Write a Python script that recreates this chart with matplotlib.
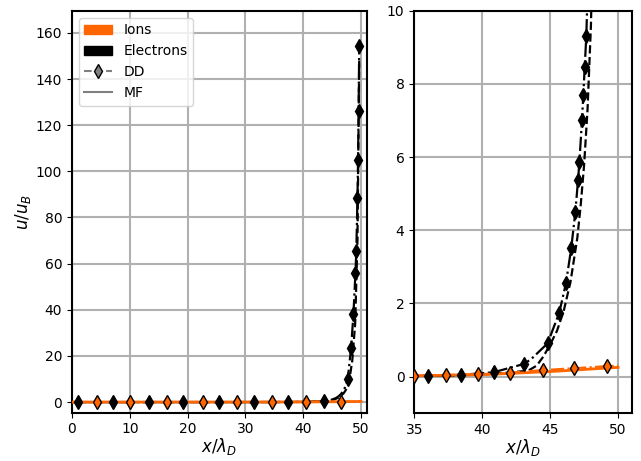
import numpy as np
import matplotlib
matplotlib.use('Agg')
import matplotlib.pyplot as plt
from matplotlib.patches import Patch
from matplotlib.lines import Line2D

plt.rcParams['axes.linewidth'] = 1.5

ion_color = '#ff6600'

# electrons, DD (full curve)
x_e_dd = [0.0, 1.09, 7.13, 13.35, 19.2, 25.4, 31.5, 35.0, 36.03, 37.4, 38.44, 40.83, 43.09, 43.6,
          44.81, 45.67, 46.16, 46.55, 46.85, 47.05, 47.15, 47.34, 47.44, 47.54, 47.66, 47.72,
          48.3, 48.7, 49.05, 49.2, 49.4, 49.5, 49.6, 49.7]
u_e_dd = [0.0, 0.0, 0.0, 0.0, 0.0, 0.0, 0.01, 0.02, 0.03, 0.04, 0.05, 0.12, 0.35, 0.48,
          0.91, 1.75, 2.55, 3.51, 4.49, 5.37, 5.86, 7.01, 7.70, 8.45, 9.31, 10.1,
          23.5, 38.0, 56.0, 65.5, 88.6, 104.8, 126.2, 154.4]

# electrons, MF
x_e_mf = [0.0, 30.0, 38.0, 41.0, 43.0, 43.5, 44.0, 44.5, 45.0, 45.5, 46.0, 46.5, 47.0,
          47.25, 47.5, 47.75, 48.0, 48.5, 49.0, 49.4, 49.7]
u_e_mf = [0.0, 0.0, 0.03, 0.08, 0.15, 0.19, 0.3, 0.55, 0.88, 1.25, 1.8, 2.6, 3.8,
          4.7, 5.8, 7.3, 9.6, 18.0, 34.0, 70.0, 148.0]

# ions, DD
x_i_dd = [0.0, 4.26, 10.1, 16.5, 22.7, 28.6, 34.6, 35.0, 37.34, 39.72, 40.5, 42.05, 44.44,
          46.6, 46.73, 49.16, 50.0]
u_i_dd = [0.0, 0.0, 0.0, 0.0, 0.0, 0.01, 0.02, 0.02, 0.05, 0.07, 0.08, 0.11, 0.18,
          0.23, 0.23, 0.29, 0.3]

# ions, MF
x_i_mf = [0.0, 10.0, 20.0, 30.0, 35.0, 40.0, 45.0, 50.0]
u_i_mf = [0.0, 0.0, 0.005, 0.015, 0.025, 0.055, 0.14, 0.255]

# marker positions in each panel
xm_e_left = [1.09, 7.13, 13.35, 19.2, 25.4, 31.5, 37.4, 43.6, 47.72, 48.3, 48.7, 49.05,
             49.2, 49.4, 49.5, 49.6, 49.7]
xm_i_left = [4.26, 10.1, 16.5, 22.7, 28.6, 34.6, 40.5, 46.6]
xm_e_right = [36.03, 38.44, 40.83, 43.09, 44.81, 45.67, 46.16, 46.55, 46.85, 47.05,
              47.15, 47.34, 47.44, 47.54, 47.66]
xm_i_right = [35.0, 37.34, 39.72, 42.05, 44.44, 46.73, 49.16]

fig = plt.figure(figsize=(6.41, 4.61), dpi=100)
ax1 = fig.add_axes([0.1123, 0.1048, 0.4598, 0.8714])
ax2 = fig.add_axes([0.6463, 0.1035, 0.3392, 0.8733])


def draw(ax, xm_e, xm_i):
    ax.plot(x_e_mf, u_e_mf, color='black', linestyle='--', lw=1.6, zorder=2)
    ax.plot(x_e_dd, u_e_dd, color='black', linestyle='-.', lw=1.6, zorder=2)
    ax.plot(x_i_dd, u_i_dd, color=ion_color, linestyle='-.', lw=1.5, zorder=3)
    ax.plot(x_i_mf, u_i_mf, color=ion_color, linestyle='-', lw=2, zorder=3)
    ye = np.interp(xm_e, x_e_dd, u_e_dd)
    yi = np.interp(xm_i, x_i_dd, u_i_dd)
    ax.plot(xm_e, ye, 'd', color='black', mec='black', ms=7.5, zorder=4)
    ax.plot(xm_i, yi, 'd', color=ion_color, mec='black', ms=7.5, zorder=4)
    ax.grid(True, color='#b0b0b0', linewidth=1.5)
    ax.set_axisbelow(True)
    ax.set_xlabel(r'$x/\lambda_D$', fontsize=12, labelpad=0)


draw(ax1, xm_e_left, xm_i_left)
ax1.set_xlim(0, 51)
ax1.set_ylim(-4.6, 169.5)
ax1.set_xticks([0, 10, 20, 30, 40, 50])
ax1.set_yticks([0, 20, 40, 60, 80, 100, 120, 140, 160])
ax1.set_ylabel(r'$u/u_B$', fontsize=12, labelpad=2)

handles = [Patch(color=ion_color, label='Ions'),
           Patch(color='black', label='Electrons'),
           Line2D([], [], color='gray', linestyle='--', marker='d', mfc='gray',
                  mec='black', ms=7, label='DD'),
           Line2D([], [], color='gray', linestyle='-', label='MF')]
ax1.legend(handles=handles, loc='upper left')

draw(ax2, xm_e_right, xm_i_right)
ax2.set_xlim(35, 51)
ax2.set_ylim(-1, 10)
ax2.set_xticks([35, 40, 45, 50])
ax2.set_yticks([0, 2, 4, 6, 8, 10])

fig.savefig('out.png', dpi=100)
